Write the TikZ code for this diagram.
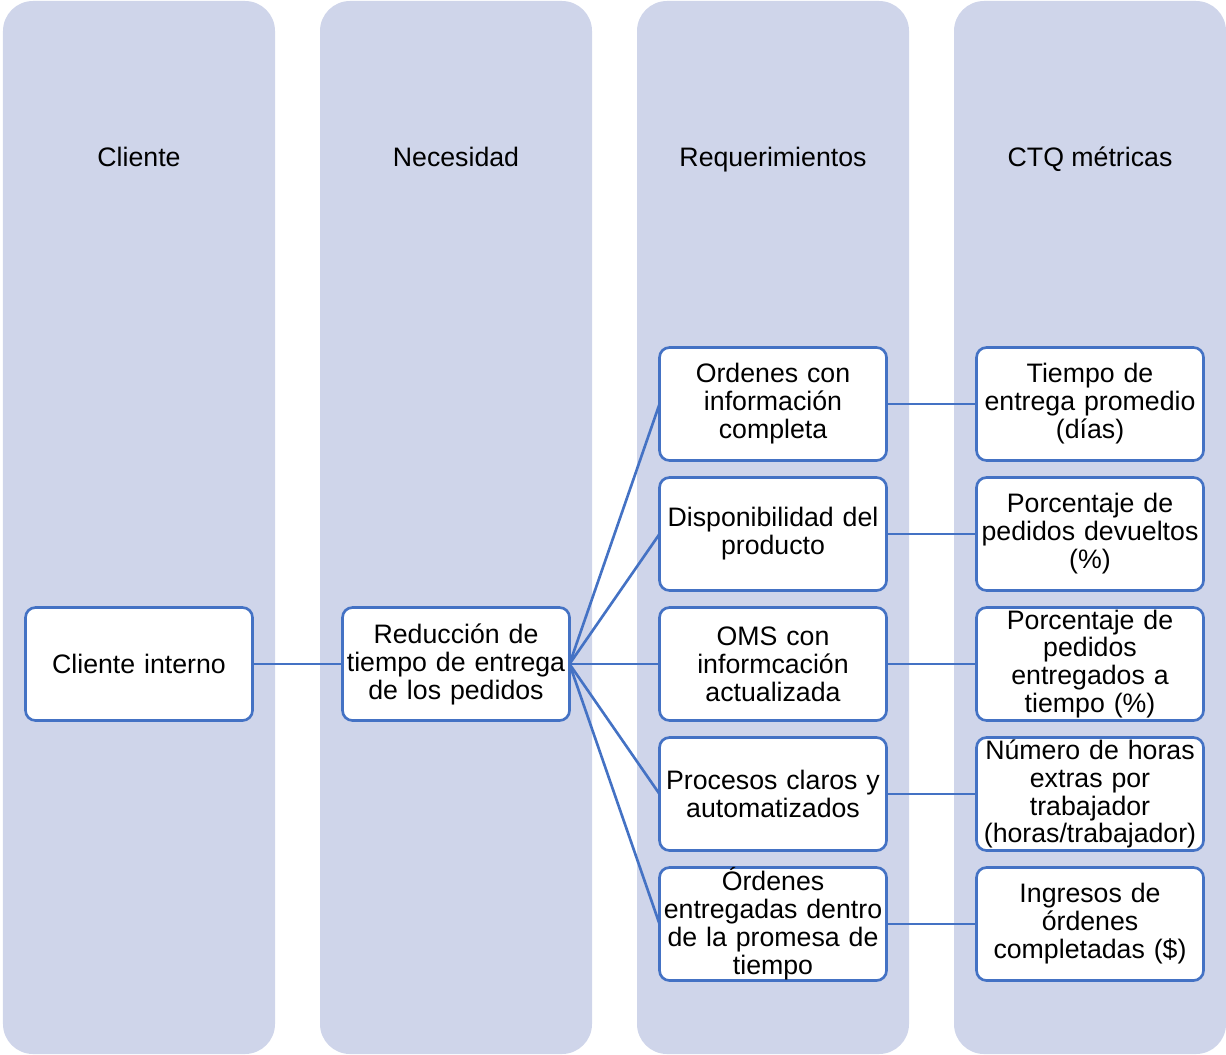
\documentclass[tikz,border=0pt]{standalone}
\usepackage{fontspec}
\setmainfont{Liberation Sans}
\usetikzlibrary{positioning}
\definecolor{lane}{HTML}{CFD5EA}
\definecolor{edge}{HTML}{4472C4}

\begin{document}
\begin{tikzpicture}[font=\fontsize{15.2}{15.9}\selectfont,
  lanebg/.style={fill=lane,rounded corners=0.6cm},
  hdr/.style={inner sep=0pt,anchor=base},
  box/.style={draw=edge,line width=1.5pt,fill=white,rounded corners=0.2cm,
    minimum width=4.54cm,minimum height=2.26cm,text width=4.5cm,
    align=center,inner sep=0pt,outer sep=0pt},
  link/.style={draw=edge,line width=1.5pt}]

\useasboundingbox (0,0) rectangle (24.52,-21.08);

%lanes
\fill[lanebg] (0.06,-0.02) rectangle (5.50,-21.08);
\fill[lanebg] (6.40,-0.02) rectangle (11.84,-21.08);
\fill[lanebg] (12.74,-0.02) rectangle (18.18,-21.08);
\fill[lanebg] (19.08,-0.02) rectangle (24.52,-21.08);

\node[hdr] (h1) at (2.78,-3.33) {Cliente};
\node[hdr] (h2) at (9.12,-3.33) {Necesidad};
\node[hdr] (h3) at (15.46,-3.33) {Requerimientos};
\node[hdr] (h4) at (21.80,-3.33) {CTQ métricas};

%requerimientos
\node[box] (r3) at (15.46,-13.28) {OMS con\\informcación\\actualizada};
\node[box,above = 0.34cm of r3] (r2) {Disponibilidad del\\producto};
\node[box,above = 0.34cm of r2] (r1) {Ordenes con\\información\\completa};
\node[box,below = 0.34cm of r3] (r4) {Procesos claros y\\automatizados};
\node[box,below = 0.34cm of r4] (r5) {Órdenes\\entregadas dentro\\de la promesa de\\tiempo};

\node[box,left = 1.8cm of r3] (nec) {Reducción de\\tiempo de entrega\\de los pedidos};
\node[box,left = 1.8cm of nec] (cli) {Cliente interno};

%metricas
\node[box,right = 1.8cm of r1] (m1) {Tiempo de\\entrega promedio\\(días)};
\node[box,right = 1.8cm of r2] (m2) {Porcentaje de\\pedidos devueltos\\(\%)};
\node[box,right = 1.8cm of r3] (m3) {Porcentaje de\\pedidos\\entregados a\\tiempo (\%)};
\node[box,right = 1.8cm of r4] (m4) {Número de horas\\extras por\\trabajador\\(horas/trabajador)};
\node[box,right = 1.8cm of r5] (m5) {Ingresos de\\órdenes\\completadas (\$)};

\path[link] (cli) -- (nec);
\foreach \i in {1,...,5}{
  \path[link] (nec.east) -- (r\i.west);
  \path[link] (r\i) -- (m\i);
}
\end{tikzpicture}
\end{document}
